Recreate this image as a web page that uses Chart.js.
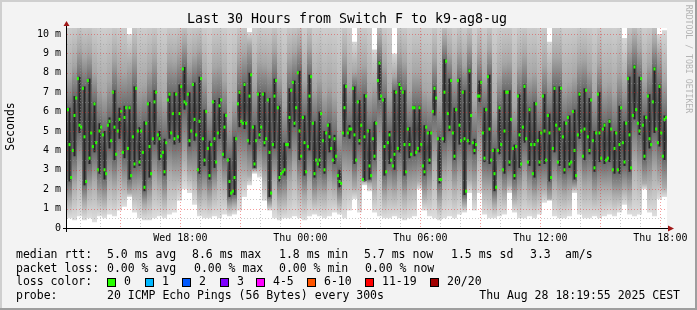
<!DOCTYPE html>
<html>
<head>
<meta charset="utf-8">
<script src="https://cdn.jsdelivr.net/npm/chart.js@4.4.1/dist/chart.umd.min.js"></script>
<style>
  html, body { margin: 0; padding: 0; background: #f3f3f3; }
  #c { display: block; }
</style>
</head>
<body>
<canvas id="c" width="697" height="310" style="width:697px;height:310px"></canvas>
<script>
// median rtt per 5 minute step (ms), 360 steps = 30 hours
const medianRtt = [
  6.1,4.3,2.6,4.0,5.8,6.7,7.7,5.3,5.2,7.2,4.7,2.4,7.6,3.6,4.9,4.2,6.4,4.4,3.0,5.0,5.2,4.8,3.0,2.8,5.3,5.5,4.5,7.0,5.2,3.8,5.0,5.6,6.0,3.9,5.7,6.2,4.1,6.2,2.7,4.7,3.3,7.2,5.0,3.4,5.0,3.9,2.1,5.4,6.4,4.2,2.8,4.6,6.5,7.0,4.8,4.6,3.7,3.9,2.9,4.4,6.6,6.9,4.9,5.9,4.6,6.9,
  4.7,5.9,7.3,8.2,6.5,6.4,6.9,4.5,5.0,7.4,5.6,4.8,3.0,5.5,7.7,4.6,3.5,6.0,4.1,2.7,4.3,6.5,4.6,3.4,4.9,6.3,6.6,3.8,5.2,5.8,3.5,2.4,1.8,1.9,2.6,4.6,6.4,7.0,5.5,5.4,7.4,5.4,4.5,6.8,7.9,5.2,3.3,4.5,6.9,4.8,5.2,6.9,4.4,4.6,6.6,3.9,1.8,4.3,6.8,7.6,6.2,2.6,2.8,2.9,3.0,4.3,
  4.3,5.7,7.1,7.5,5.4,6.2,8.0,5.0,3.7,5.7,4.4,2.9,4.2,6.8,7.8,5.4,2.8,3.5,3.3,3.5,5.9,4.5,3.0,4.9,5.3,4.7,4.1,3.5,4.6,3.7,2.7,2.4,2.3,4.9,6.2,7.3,4.9,5.1,5.1,7.2,4.8,3.5,6.5,4.5,5.3,2.5,4.7,6.8,5.0,3.2,2.7,4.6,3.7,5.4,7.6,8.5,6.8,6.6,4.2,2.9,4.4,4.8,3.5,3.2,3.8,7.0,
  4.1,7.4,7.2,7.0,4.3,2.9,5.1,4.3,3.8,6.2,6.2,3.9,4.1,6.2,4.3,3.2,2.9,5.2,4.9,3.5,4.9,6.0,7.2,6.7,4.6,2.5,2.5,4.6,7.0,8.6,5.9,5.2,7.6,4.9,3.7,6.1,7.6,5.3,4.5,7.0,4.6,1.9,4.5,8.1,5.8,4.4,4.0,4.3,6.8,6.8,7.5,4.9,3.6,6.1,7.8,5.1,3.5,4.0,2.8,2.1,4.0,6.2,4.3,3.0,5.0,7.0,
  7.0,3.4,5.6,4.1,2.7,4.2,6.8,4.8,3.3,5.2,7.3,4.6,3.4,6.1,4.3,2.8,4.3,6.4,4.5,3.4,4.9,6.8,5.0,3.5,5.8,4.9,2.6,4.1,7.2,5.3,3.4,5.1,7.2,4.7,3.0,5.4,5.7,3.3,3.4,6.0,4.0,2.7,4.8,6.9,5.0,3.7,5.1,7.1,4.7,4.0,6.6,4.5,3.1,4.9,6.9,4.9,3.6,5.1,5.3,3.5,3.6,5.5,5.1,3.0,4.1,4.9,
  3.0,4.3,6.2,4.4,3.4,5.4,7.7,4.8,3.1,5.8,8.3,6.1,5.4,5.0,7.7,5.3,3.7,5.7,6.8,4.6,4.3,6.5,8.2,5.1,4.4,7.3,4.9,3.7,5.6,5.7
];

// smoke per 15 minute column (ms), 120 columns
const smokeMin = [
  0.5,0.4,0.6,0.4,0.5,0.3,0.6,0.5,0.7,0.6, 0.9,1.1,1.6,0.8,0.5,0.4,0.4,0.5,0.6,0.5,
  0.7,0.8,1.4,2.0,1.8,1.2,0.6,0.5,0.5,0.6, 0.5,0.7,0.6,0.7,0.9,1.6,2.2,2.8,2.6,1.4,
  0.9,0.5,0.4,0.5,0.5,0.6,0.5,0.4,0.6,0.7, 0.6,0.5,0.6,0.8,0.7,0.5,0.9,1.5,0.8,2.2,
  1.9,0.8,0.6,0.5,0.5,0.6,0.5,0.4,0.5,0.6, 2.0,0.9,0.6,0.5,0.4,0.5,0.6,0.5,0.7,0.8,
  1.8,0.9,1.8,0.7,0.5,0.5,0.6,0.7,1.8,0.8, 0.5,0.5,0.6,0.5,0.7,1.3,1.4,0.6,0.5,0.5,
  0.6,1.8,0.7,0.5,0.5,0.6,0.5,0.6,0.7,0.6, 0.8,1.2,0.7,0.6,0.7,2.0,0.8,0.6,1.5,1.6
];
const smokeLo = [
  1.4,2.2,3.0,1.3,2.0,2.4,1.6,1.4,2.4,2.1, 2.6,2.2,1.8,1.9,2.0,1.2,1.5,2.5,2.1,1.5,
  2.8,2.6,2.6,3.6,2.8,2.6,1.6,1.9,1.5,2.0, 2.7,2.2,1.1,1.2,3.0,2.9,2.7,3.0,3.2,2.6,
  1.2,2.5,1.4,1.5,2.4,3.1,2.1,1.6,2.4,1.5, 1.8,1.7,2.3,2.0,1.3,2.8,2.7,2.1,2.6,2.4,
  2.3,2.1,4.0,1.6,2.0,1.8,2.3,1.6,2.1,2.2, 2.4,1.6,2.0,3.4,1.3,2.6,2.9,2.1,2.6,1.2,
  2.5,2.2,3.8,2.0,2.0,1.2,2.2,1.7,2.2,1.5, 1.9,2.6,1.9,1.6,1.9,2.0,1.5,2.3,1.9,1.7,
  1.9,2.1,2.7,2.1,2.2,1.7,2.0,2.0,2.0,1.7, 1.7,2.0,1.8,3.4,2.8,2.3,2.4,3.0,2.5,2.1
];
const coreLo = [
  2.4,3.7,4.9,2.2,3.3,3.9,2.8,2.5,4.1,3.5, 4.6,3.6,2.5,3.1,3.2,1.9,2.6,4.3,3.5,2.7,
  4.6,4.3,4.4,6.1,4.2,4.5,2.8,3.2,2.5,3.1, 4.6,3.6,1.6,1.7,5.2,5.1,4.3,3.1,4.6,4.2,
  1.6,4.1,2.4,2.7,4.1,5.2,3.5,2.7,4.0,2.6, 3.1,2.8,3.9,3.3,2.1,4.7,4.6,3.3,4.3,2.4,
  2.5,3.5,6.6,2.7,3.3,3.0,3.9,2.7,3.6,3.7, 3.9,2.7,3.3,5.8,2.3,4.4,5.0,3.5,4.3,1.7,
  4.3,3.8,6.5,3.4,3.3,1.9,3.8,2.8,3.2,2.5, 3.1,4.4,3.2,2.6,3.2,3.3,2.4,3.9,3.2,2.8,
  3.1,2.5,4.6,3.5,3.8,2.9,3.4,3.3,3.4,2.8, 2.8,3.2,2.9,5.6,4.8,3.5,4.1,4.9,4.2,3.5
];
const coreHi = [
  6.2,6.8,7.8,7.3,7.7,6.5,5.4,5.0,5.7,7.1, 6.2,6.3,6.3,7.3,5.2,5.5,6.5,7.1,5.0,4.6,
  7.0,7.0,7.4,8.3,7.0,7.5,7.8,6.1,4.5,6.6, 6.7,5.9,3.6,4.7,7.1,7.5,8.0,5.3,7.0,7.0,
  6.7,7.7,6.3,4.4,7.2,7.6,8.1,5.8,7.9,5.5, 6.0,5.0,5.4,4.8,3.0,7.4,5.3,7.3,6.6,6.9,
  5.1,5.5,8.6,6.7,5.0,7.1,7.5,7.1,5.2,6.3, 6.3,5.3,5.0,7.3,4.7,8.7,7.7,6.2,7.7,7.1,
  8.2,4.6,7.6,6.2,7.9,4.1,6.3,7.1,7.1,4.3, 6.9,7.4,6.2,6.5,5.0,6.9,5.9,7.3,7.3,5.5,
  5.8,6.1,7.0,7.2,6.7,5.0,7.0,5.4,5.6,5.0, 6.3,5.5,7.8,8.4,7.8,5.8,6.9,8.3,7.4,5.8
];
const smokeHi = [
  7.8,8.4,9.2,8.8,9.0,8.0,7.2,6.9,7.6,8.7, 8.1,8.0,8.3,8.9,7.3,7.4,8.2,8.8,7.0,6.6,
  8.7,8.6,9.0,9.6,8.5,8.9,9.2,7.8,6.4,8.3, 8.4,7.6,5.6,6.6,8.8,9.0,9.4,7.4,8.6,8.5,
  8.3,9.2,7.8,6.3,8.8,9.1,9.5,7.6,9.3,7.2, 7.7,6.9,7.3,6.8,5.2,8.9,7.4,8.0,8.3,8.4,
  7.0,7.3,9.8,8.4,6.9,7.8,9.0,8.6,7.1,8.0, 8.0,7.1,6.9,8.8,6.6,9.8,9.0,7.9,9.1,8.4,
  9.5,6.5,9.0,7.8,9.2,6.0,7.9,8.5,8.6,6.3, 8.4,8.9,7.8,8.0,7.0,8.4,7.6,8.8,8.8,7.3,
  7.5,7.8,8.6,8.7,8.2,6.9,8.5,7.3,7.5,7.0, 8.0,7.4,9.2,9.8,9.2,7.6,8.5,9.6,9.0,7.6
];
const smokeMax = [
  11,11,11,11,11,11,11,11,11,11, 11,11,10.0,11,11,11,11,11,11,11,
  11,11,11,11,11,11,11,11,11,11, 11,11,11,11,11,11,10.1,11,11,11,
  11,11,11,11,11,11,11,11,11,11, 11,11,11,11,11,11,11,9.6,11,11,
  11,9.2,11,11,11,9.0,11,11,11,11, 11,11,11,11,11,11,11,11,11,11,
  11,11,11,11,11,11,11,11,11,11, 11,11,11,11,11,11,9.6,11,11,11,
  11,11,11,11,11,11,11,11,11,11, 11,9.8,11,11,11,11,11,11,10.0,10.2
];

// x axis in hours since Wed 12:20
const tickHours = [5.667, 11.667, 17.667, 23.667, 29.667];
const tickLabels = ['Wed 18:00', 'Thu 00:00', 'Thu 06:00', 'Thu 12:00', 'Thu 18:00'];
const yTicks = [0, 1, 2, 3, 4, 5, 6, 7, 8, 9, 10];

const lossColors = ['#26ff00', '#00b8ff', '#0059ff', '#7e00ff', '#ff00ff', '#ff5500', '#ff0000', '#a10000'];
const lossLabels = ['0', '1', '2', '3', '4-5', '6-10', '11-19', '20/20'];

const MONO = '"DejaVu Sans Mono", "Liberation Mono", monospace';

const smokeData = smokeMin.map((v, k) => ({ x: (k + 0.5) * 0.25, y: [v, smokeMax[k]] }));
const streakData = coreLo.map((v, k) => ({ x: (k + 0.5) * 0.25, y: [v, coreHi[k]] }));
const medianData = medianRtt.map((m, i) => ({ x: (i + 0.5) / 12, y: [m - 0.08, m + 0.08] }));

// each smoke column is shaded darker towards its core, like the rrd smoke bands
function smokeFill(c) {
    const chart = c.chart;
    const ys = chart.scales.y;
    if (!chart.chartArea || !ys || c.dataIndex === undefined) return '#c8c8c8';
    const k = c.dataIndex;
    const top = ys.getPixelForValue(smokeMax[k]);
    const bot = ys.getPixelForValue(smokeMin[k]);
    const f = v => Math.min(1, Math.max(0, (ys.getPixelForValue(v) - top) / (bot - top)));
    const mid = (coreLo[k] + coreHi[k]) / 2;
    const g = chart.ctx.createLinearGradient(0, top, 0, bot);
    g.addColorStop(0, '#d6d6d6');
    g.addColorStop(f(smokeHi[k]), '#a6a6a6');
    g.addColorStop(f(coreHi[k]), '#6c6c6c');
    g.addColorStop(f(mid), '#4e4e4e');
    g.addColorStop(f(coreLo[k]), '#6c6c6c');
    g.addColorStop(f(smokeLo[k]), '#ababab');
    g.addColorStop(1, '#dedede');
    return g;
}

const rrdFrame = {
    id: 'rrdFrame',
    beforeDraw(chart) {
        const { ctx, chartArea: a } = chart;
        ctx.save();
        ctx.fillStyle = '#f3f3f3';
        ctx.fillRect(0, 0, 697, 310);
        ctx.fillStyle = '#cfcfcf';
        ctx.fillRect(0, 0, 697, 2);
        ctx.fillRect(0, 0, 2, 310);
        ctx.fillStyle = '#9e9e9e';
        ctx.fillRect(0, 308, 697, 2);
        ctx.fillRect(695, 0, 2, 310);
        ctx.fillStyle = '#ffffff';
        ctx.fillRect(a.left, a.top, a.right - a.left, a.bottom - a.top);
        ctx.restore();
    },
    afterDatasetsDraw(chart) {
        const { ctx, chartArea: a } = chart;
        const xs = chart.scales.x, ys = chart.scales.y;
        ctx.save();
        ctx.lineWidth = 1;
        ctx.setLineDash([1, 2]);
        // horizontal grid, minor every 0.5 ms, major every 1 ms
        for (let k = 1; k <= 20; k++) {
            const y = Math.round(ys.getPixelForValue(k / 2)) + 0.5;
            ctx.strokeStyle = k % 2 ? 'rgba(150,150,150,0.5)' : 'rgba(230,40,40,0.45)';
            ctx.beginPath();
            ctx.moveTo(a.left, y);
            ctx.lineTo(a.right, y);
            ctx.stroke();
        }
        // vertical grid, minor every hour, major every 3 hours
        for (let h = 40 / 60; h < 30; h += 1) {
            const clock = Math.round(12 + 20 / 60 + h) % 24;
            const x = Math.round(xs.getPixelForValue(h)) + 0.5;
            ctx.strokeStyle = clock % 3 === 0 ? 'rgba(230,40,40,0.45)' : 'rgba(150,150,150,0.5)';
            ctx.beginPath();
            ctx.moveTo(x, a.top);
            ctx.lineTo(x, a.bottom);
            ctx.stroke();
        }
        ctx.setLineDash([]);
        // axes
        ctx.strokeStyle = '#000000';
        ctx.beginPath();
        ctx.moveTo(a.left - 4, a.bottom + 0.5);
        ctx.lineTo(a.right + 3, a.bottom + 0.5);
        ctx.moveTo(a.left - 0.5, a.bottom + 4);
        ctx.lineTo(a.left - 0.5, a.top - 3);
        ctx.stroke();
        // arrows
        ctx.fillStyle = '#a01818';
        ctx.beginPath();
        ctx.moveTo(a.left - 3.5, a.top - 2);
        ctx.lineTo(a.left + 2.5, a.top - 2);
        ctx.lineTo(a.left - 0.5, a.top - 7);
        ctx.closePath();
        ctx.fill();
        ctx.beginPath();
        ctx.moveTo(a.right + 1, a.bottom - 2.5);
        ctx.lineTo(a.right + 1, a.bottom + 3.5);
        ctx.lineTo(a.right + 7, a.bottom + 0.5);
        ctx.closePath();
        ctx.fill();
        ctx.restore();
    },
    afterDraw(chart) {
        const { ctx, chartArea: a } = chart;
        const xs = chart.scales.x, ys = chart.scales.y;
        ctx.save();
        ctx.fillStyle = '#000000';
        ctx.textBaseline = 'middle';

        // title
        ctx.font = '13.3px ' + MONO;
        ctx.textAlign = 'center';
        ctx.fillText('Last 30 Hours from Switch F to k9-ag8-ug', 347, 19.5);

        // y tick labels
        ctx.font = '10px ' + MONO;
        ctx.textAlign = 'right';
        yTicks.forEach(v => {
            ctx.fillText(v === 0 ? '0' : v + ' m', a.left - 6, ys.getPixelForValue(v));
        });
        // x tick labels
        ctx.textAlign = 'center';
        tickHours.forEach((h, i) => {
            ctx.fillText(tickLabels[i], xs.getPixelForValue(h), 238);
        });

        // y axis title
        ctx.save();
        ctx.font = '11.5px ' + MONO;
        ctx.translate(11, 126.5);
        ctx.rotate(-Math.PI / 2);
        ctx.fillText('Seconds', 0, 0);
        ctx.restore();

        // watermark
        ctx.save();
        ctx.font = '8.2px ' + MONO;
        ctx.fillStyle = '#b4b4b4';
        ctx.translate(688, 59);
        ctx.rotate(Math.PI / 2);
        ctx.fillText('RRDTOOL / TOBI OETIKER', 0, 0);
        ctx.restore();

        // legend
        ctx.font = '11.5px ' + MONO;
        ctx.textAlign = 'left';
        const row1 = [[16, 'median rtt:'], [107, '5.0 ms avg'], [192, '8.6 ms max'], [279, '1.8 ms min'],
                      [364, '5.7 ms now'], [451, '1.5 ms sd'], [530, '3.3'], [565, 'am/s']];
        row1.forEach(([x, t]) => ctx.fillText(t, x, 255));
        const row2 = [[16, 'packet loss:'], [107, '0.00 % avg'], [194, '0.00 % max'], [279, '0.00 % min'], [365, '0.00 % now']];
        row2.forEach(([x, t]) => ctx.fillText(t, x, 269));
        ctx.fillText('loss color:', 16, 282.5);
        const boxX = [107, 145, 182, 220, 256, 307, 365, 430];
        lossColors.forEach((c, i) => {
            ctx.fillStyle = c;
            ctx.fillRect(boxX[i], 278, 9, 9);
            ctx.strokeStyle = '#000000';
            ctx.lineWidth = 1;
            ctx.strokeRect(boxX[i] + 0.5, 278.5, 8, 8);
            ctx.fillStyle = '#000000';
            ctx.fillText(lossLabels[i], boxX[i] + 17, 282.5);
        });
        ctx.fillText('probe:', 16, 296.5);
        ctx.fillText('20 ICMP Echo Pings (56 Bytes) every 300s', 107, 296.5);
        ctx.textAlign = 'right';
        ctx.fillText('Thu Aug 28 18:19:55 2025 CEST', 680, 296.5);
        ctx.restore();
    }
};

const ctx = document.getElementById('c').getContext('2d');
new Chart(ctx, {
    type: 'bar',
    data: {
        datasets: [
            { label: 'median', data: medianData, backgroundColor: lossColors[0], barThickness: 2 },
            { label: 'core', data: streakData, backgroundColor: '#262626', barThickness: 2 },
            { label: 'smoke', data: smokeData, backgroundColor: smokeFill, barThickness: 5 }
        ]
    },
    options: {
        responsive: false,
        animation: false,
        devicePixelRatio: 1,
        events: [],
        layout: { padding: { left: 0, right: 30, top: 28, bottom: 62 } },
        datasets: { bar: { grouped: false, borderWidth: 0, inflateAmount: 0 } },
        plugins: { legend: { display: false }, tooltip: { enabled: false }, title: { display: false } },
        scales: {
            x: {
                type: 'linear', min: 0, max: 30, offset: false,
                grid: { display: false }, border: { display: false }, ticks: { display: false },
                afterFit: s => { s.height = 20; }
            },
            y: {
                min: 0, max: 10.31,
                grid: { display: false }, border: { display: false }, ticks: { display: false },
                afterFit: s => { s.width = 67; }
            }
        }
    },
    plugins: [rrdFrame]
});
</script>
</body>
</html>
